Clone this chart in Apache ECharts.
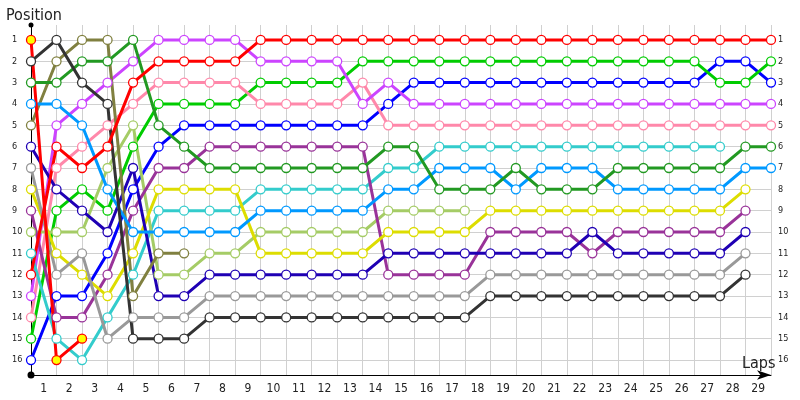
<!DOCTYPE html>
<html><head><meta charset="utf-8">
<script src="https://cdn.jsdelivr.net/npm/echarts@6/dist/echarts.min.js"></script>
<style>html,body{margin:0;padding:0;background:#fff}#c{width:800px;height:400px}</style>
</head><body><div id="c"></div>
<script>
// Tick labels
const lapLabels = ['1','2','3','4','5','6','7','8','9','10','11','12','13','14','15','16','17','18','19','20','21','22','23','24','25','26','27','28','29'];
const positionTicks = [1,2,3,4,5,6,7,8,9,10,11,12,13,14,15,16];

// Positions per lap (index 0 = start grid)
const redYellow  = [1,16,15];
const black      = [2,1,3,4,15,15,15,14,14,14,14,14,14,14,14,14,14,14,13,13,13,13,13,13,13,13,13,13,12];
const forestGreen= [3,3,2,2,1,5,6,7,7,7,7,7,7,7,6,6,8,8,8,7,8,8,8,7,7,7,7,7,6,6];
const lightBlue  = [4,4,5,8,10,10,10,10,10,9,9,9,9,9,8,8,7,7,7,8,7,7,7,8,8,8,8,8,7,7];
const olive      = [5,2,1,1,13,11,11];
const navy       = [6,8,9,10,7,13,13,12,12,12,12,12,12,12,11,11,11,11,11,11,11,11,10,11,11,11,11,11,10];
const gray       = [7,12,11,15,14,14,14,13,13,13,13,13,13,13,13,13,13,13,12,12,12,12,12,12,12,12,12,12,11];
const yellow     = [8,11,12,13,11,8,8,8,8,11,11,11,11,11,10,10,10,10,9,9,9,9,9,9,9,9,9,9,8];
const purple     = [9,14,14,12,9,7,7,6,6,6,6,6,6,6,12,12,12,12,10,10,10,10,11,10,10,10,10,10,9];
const lightGreen = [10,10,10,7,5,12,12,11,11,10,10,10,10,10,9,9,9,9];
const cyan       = [11,15,16,14,12,9,9,9,9,8,8,8,8,8,7,7,6,6,6,6,6,6,6,6,6,6,6,6];
const red        = [12,6,7,6,3,2,2,2,2,1,1,1,1,1,1,1,1,1,1,1,1,1,1,1,1,1,1,1,1,1];
const violet     = [13,5,4,3,2,1,1,1,1,2,2,2,2,4,3,4,4,4,4,4,4,4,4,4,4,4,4,4,4,4];
const pink       = [14,7,6,5,4,3,3,3,3,4,4,4,4,3,5,5,5,5,5,5,5,5,5,5,5,5,5,5,5,5];
const green      = [15,9,8,9,6,4,4,4,4,3,3,3,3,2,2,2,2,2,2,2,2,2,2,2,2,2,2,3,3,2];
const blue       = [16,13,13,11,8,6,5,5,5,5,5,5,5,5,4,3,3,3,3,3,3,3,3,3,3,3,3,2,2,3];

const seriesDefs = [
  {name:'P16', data: blue,        color:'#0000ff'},
  {name:'P15', data: green,       color:'#00cc00'},
  {name:'P14', data: pink,        color:'#ff88aa'},
  {name:'P13', data: violet,      color:'#cc44ff'},
  {name:'P11', data: cyan,        color:'#33cccc'},
  {name:'P10', data: lightGreen,  color:'#a5cc66'},
  {name:'P9',  data: purple,      color:'#993399'},
  {name:'P8',  data: yellow,      color:'#dddd00'},
  {name:'P7',  data: gray,        color:'#999999'},
  {name:'P6',  data: navy,        color:'#1f00b4'},
  {name:'P5',  data: olive,       color:'#808040'},
  {name:'P4',  data: lightBlue,   color:'#0099ff'},
  {name:'P3',  data: forestGreen, color:'#229922'},
  {name:'P2',  data: black,       color:'#333333'},
  {name:'P12', data: red,         color:'#ff0000'},
  {name:'P1',  data: redYellow,   color:'#ff0000', fill:'#ffff00'}
];

const FONT = "'DejaVu Sans Condensed','DejaVu Sans',sans-serif";
const chart = echarts.init(document.getElementById('c'), null, {renderer:'canvas'});
chart.setOption({
  animation: false,
  backgroundColor: '#ffffff',
  title: [
    {text:'Position', left: 1, top: 3, textStyle:{fontSize:16, fontWeight:'normal', color:'#222', fontFamily:FONT}},
    {text:'Laps', left: 737, top: 351, textStyle:{fontSize:16, fontWeight:'normal', color:'#222', fontFamily:FONT}}
  ],
  grid: {left:31, right:29, top:25, bottom:25, containLabel:false, outerBoundsMode:'none'},
  xAxis: [
    {
      type:'category', data: lapLabels, boundaryGap: true, position:'bottom',
      axisLine:{show:true, onZero:false, lineStyle:{color:'#000', width:1}, symbol:['circle','arrow'], symbolSize:[7,14]},
      axisTick:{show:false},
      splitLine:{show:false},
      axisLabel:{fontSize:12, color:'#222', margin:8, fontFamily:FONT, interval:0}
    },
    {
      type:'value', min:0, max:29, interval:1, position:'top',
      axisLine:{show:false}, axisTick:{show:false}, axisLabel:{show:false},
      splitLine:{show:true, lineStyle:{color:'#d0d0d0', width:1}}
    }
  ],
  yAxis: [
    {
      type:'value', inverse:true, min:0.3, max:16.7, position:'left',
      axisLine:{show:true, onZero:false, lineStyle:{color:'#000', width:1}, symbol:['circle','circle'], symbolSize:[5,5]},
      axisTick:{show:false, customValues: positionTicks},
      axisLabel:{customValues: positionTicks, fontSize:9, color:'#222', align:'left', margin:19, fontFamily:FONT},
      splitLine:{show:true, lineStyle:{color:'#d0d0d0', width:1}}
    },
    {
      type:'value', inverse:true, min:0.3, max:16.7, position:'right',
      axisLine:{show:false}, 
      axisTick:{show:false, customValues: positionTicks},
      axisLabel:{customValues: positionTicks, fontSize:9, color:'#222', align:'left', margin:7, fontFamily:FONT},
      splitLine:{show:false}
    }
  ],
  series: seriesDefs.map(s => ({
    name: s.name,
    type: 'line',
    xAxisIndex: 1,
    yAxisIndex: 0,
    data: s.data.map((p, i) => [i, p]),
    symbol: 'circle',
    symbolSize: 9,
    showSymbol: true,
    showAllSymbol: true,
    lineStyle: {color: s.color, width: 3},
    itemStyle: {color: s.fill || '#ffffff', borderColor: s.color, borderWidth: 1.3},
    emphasis: {disabled: true},
    silent: true
  }))
});
</script>
</body></html>
